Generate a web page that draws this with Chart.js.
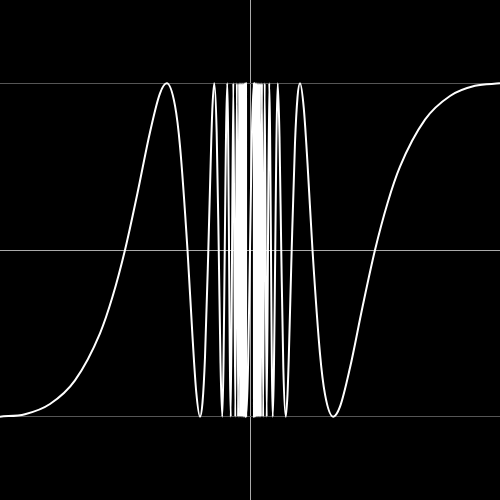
<!DOCTYPE html>
<html>
<head>
<meta charset="utf-8">
<script src="https://cdn.jsdelivr.net/npm/chart.js@4"></script>
<style>
    body { margin: 0; background: #000; }
    canvas { display: block; }
</style>
</head>
<body>
<canvas id="waveChart" width="500" height="500"></canvas>
<script>
// left half of the curve (x < 0)
const leftX = [
    -1.0, -0.9, -0.8, -0.7, -0.6, -0.55, -0.5, -0.45, -0.4, -0.36, -0.333,
    -0.3, -0.28, -0.25, -0.23, -0.215, -0.2, -0.19, -0.18, -0.1667, -0.155,
    -0.15, -0.1429, -0.1333, -0.125, -0.118, -0.1111, -0.0909, -0.0769,
    -0.0667, -0.0588, -0.0526, -0.0476, -0.0435, -0.04, -0.037, -0.0345,
    -0.0323, -0.0303, -0.0286, -0.027, -0.0256, -0.0244, -0.0233, -0.0222,
    -0.0213, -0.0204, -0.0196, -0.0189, -0.0182, -0.0175, -0.0169, -0.0164,
    -0.0159, -0.0154,
];
const leftY = [
    -1, -0.985, -0.924, -0.782, -0.5, -0.281, 0, 0.342, 0.707, 0.94, 1,
    0.866, 0.623, 0, -0.52, -0.853, -1, -0.916, -0.643, 0, 0.651,
    0.866, 1, 0.707, 0, -0.678, -1, 1, -1,
    1, -1, 1, -1, 1, -1, 1, -1,
    1, -1, 1, -1, 1, -1, 1, -1,
    1, -1, 1, -1, 1, -1, 1, -1,
    1, -1,
];
// right half (x > 0)
const rightX = [
    0.0154, 0.0159, 0.0164, 0.0169, 0.0175, 0.0182, 0.0189, 0.0196, 0.0204,
    0.0213, 0.0222, 0.0233, 0.0244, 0.0256, 0.027, 0.0286, 0.0303, 0.0323,
    0.0345, 0.037, 0.04, 0.0435, 0.0476, 0.0526, 0.0588, 0.0667, 0.0769,
    0.0909, 0.1111, 0.118, 0.125, 0.1333, 0.1429, 0.15, 0.155, 0.1667, 0.18,
    0.19, 0.2, 0.215, 0.23, 0.25, 0.28, 0.3, 0.333, 0.36, 0.4, 0.45, 0.5,
    0.55, 0.6, 0.7, 0.8, 0.9, 1.0,
];
const rightY = [
    1, -1, 1, -1, 1, -1, 1, -1, 1,
    -1, 1, -1, 1, -1, 1, -1, 1, -1,
    1, -1, 1, -1, 1, -1, 1, -1, 1,
    -1, 1, 0.678, 0, -0.707, -1, -0.866, -0.651, 0, 0.643,
    0.916, 1, 0.853, 0.52, 0, -0.623, -0.866, -1, -0.94, -0.707, -0.342, 0,
    0.281, 0.5, 0.782, 0.924, 0.985, 1,
];
// grid lines shown
const xGridTicks = [0];
const yGridTicks = [-1, 0, 1];

function toPoints(xs, ys) {
    var pts = [];
    for (var i = 0; i < xs.length; i++) {
        pts.push({ x: xs[i], y: ys[i] });
    }
    return pts;
}

function gridColor(ctx) {
    const v = ctx.tick ? ctx.tick.value : null;
    if (v === 0) return '#aaa';
    return '#555';
}

const chartConfig = {
    type: 'line',
    data: {
        datasets: [
            {
                data: toPoints(leftX, leftY).concat(toPoints(rightX, rightY)),
                borderColor: '#fff',
                borderWidth: 2,
                pointRadius: 0,
                fill: false,
                cubicInterpolationMode: 'monotone',
            },
        ],
    },
    options: {
        responsive: false,
        animation: false,
        layout: { padding: 0 },
        plugins: {
            legend: { display: false },
            tooltip: { enabled: false },
        },
        scales: {
            x: {
                type: 'linear',
                min: -1,
                max: 1,
                afterBuildTicks: (axis) => {
                    axis.ticks = xGridTicks.map((v) => ({ value: v }));
                },
                ticks: { display: false },
                grid: { color: gridColor, lineWidth: 1, drawTicks: false },
                border: { display: false },
            },
            y: {
                min: -1.5,
                max: 1.5,
                afterBuildTicks: (axis) => {
                    axis.ticks = yGridTicks.map((v) => ({ value: v }));
                },
                ticks: { display: false },
                grid: { color: gridColor, lineWidth: 1, drawTicks: false },
                border: { display: false },
            },
        },
    },
};

var waveChart = new Chart(
    document.getElementById('waveChart').getContext('2d'),
    chartConfig
);
</script>
</body>
</html>
